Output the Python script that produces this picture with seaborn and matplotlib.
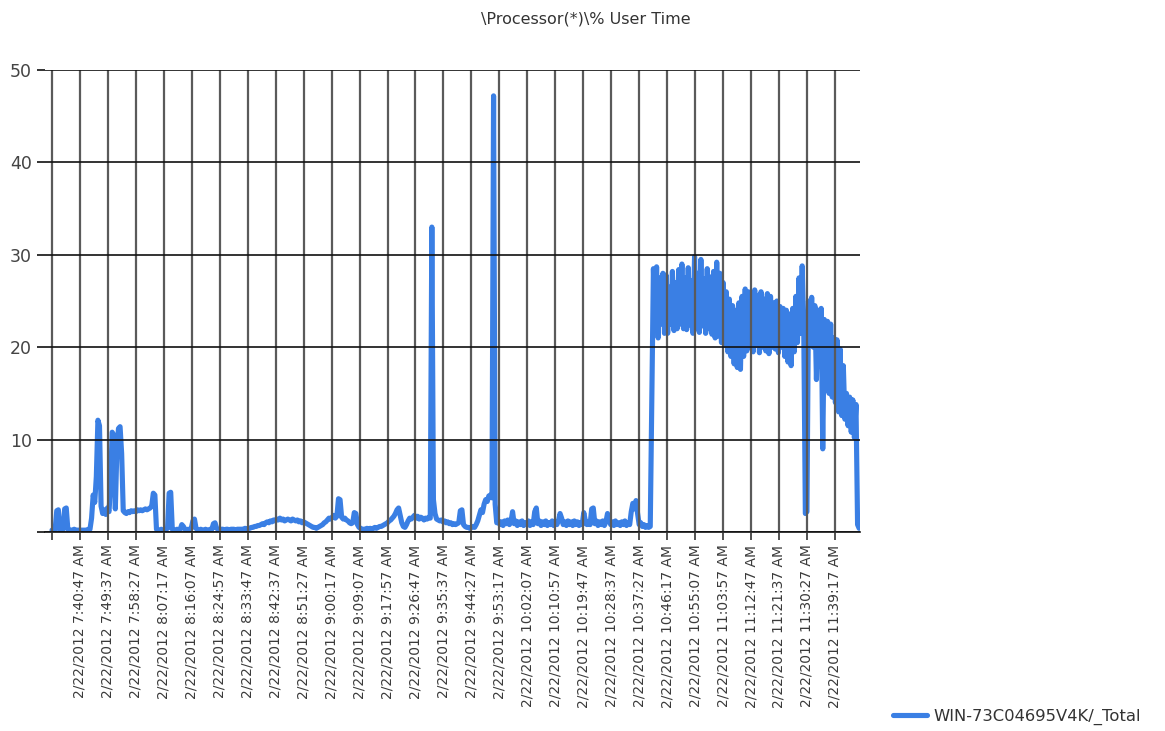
import pandas as pd, numpy as np
import matplotlib
matplotlib.use("Agg")
import matplotlib.pyplot as plt
import matplotlib.dates as mdates
import seaborn as sns

title = "\\Processor(*)\\% User Time"
series_name = "WIN-73C04695V4K/_Total"
time_fmt = "%m/%d/%Y %I:%M:%S %p"
start_time = "2/22/2012 7:31:57 AM"
sample_seconds = 30

tick_labels = [
    "2/22/2012 7:40:47 AM", "2/22/2012 7:49:37 AM", "2/22/2012 7:58:27 AM",
    "2/22/2012 8:07:17 AM", "2/22/2012 8:16:07 AM", "2/22/2012 8:24:57 AM",
    "2/22/2012 8:33:47 AM", "2/22/2012 8:42:37 AM", "2/22/2012 8:51:27 AM",
    "2/22/2012 9:00:17 AM", "2/22/2012 9:09:07 AM", "2/22/2012 9:17:57 AM",
    "2/22/2012 9:26:47 AM", "2/22/2012 9:35:37 AM", "2/22/2012 9:44:27 AM",
    "2/22/2012 9:53:17 AM", "2/22/2012 10:02:07 AM", "2/22/2012 10:10:57 AM",
    "2/22/2012 10:19:47 AM", "2/22/2012 10:28:37 AM", "2/22/2012 10:37:27 AM",
    "2/22/2012 10:46:17 AM", "2/22/2012 10:55:07 AM", "2/22/2012 11:03:57 AM",
    "2/22/2012 11:12:47 AM", "2/22/2012 11:21:37 AM", "2/22/2012 11:30:27 AM",
    "2/22/2012 11:39:17 AM",
]
y_ticks = [0, 10, 20, 30, 40, 50]

# % user time, one value per 30 s sample
early_values = [
    0.2, 0.2, 0.3, 2.3, 2.4, 0.2, 0.2, 0.3, 2.5, 2.6, 0.3, 0.2, 0.2, 0.2, 0.3, 0.2, 0.2, 0.2, 0.2, 0.2,
    0.2, 0.2, 0.2, 0.3, 0.3, 1.5, 4.0, 3.2, 6.0, 12.1, 11.5, 2.8, 2.0, 2.4, 1.9, 2.6, 2.2, 5.0, 10.8, 10.5,
    2.5, 9.0, 11.2, 11.4, 8.5, 2.3, 2.1, 2.0, 2.2, 2.1, 2.3, 2.2, 2.3, 2.2, 2.4, 2.3, 2.4, 2.3, 2.4, 2.5,
    2.4, 2.5, 2.6, 2.8, 4.2, 4.0, 0.3, 0.2, 0.2, 0.3, 0.2, 0.2, 0.3, 0.4, 4.2, 4.3, 0.3, 0.2, 0.2, 0.3,
    0.2, 0.3, 0.8, 0.6, 0.3, 0.2, 0.3, 0.2, 0.4, 1.2, 1.4, 0.4, 0.2, 0.2, 0.3, 0.2, 0.2, 0.3, 0.2, 0.2,
    0.3, 0.3, 0.9, 1.0, 0.4, 0.3, 0.2, 0.3, 0.3, 0.2, 0.3, 0.3, 0.2, 0.3, 0.3, 0.3, 0.2, 0.3, 0.3, 0.3,
]
middle_values = [
    0.3, 0.3, 0.4, 0.3, 0.4, 0.4, 0.5, 0.5, 0.6, 0.6, 0.7, 0.7, 0.8, 0.9, 0.8, 1.0, 1.1, 1.0, 1.2, 1.1,
    1.3, 1.2, 1.4, 1.3, 1.5, 1.3, 1.4, 1.2, 1.3, 1.4, 1.3, 1.2, 1.4, 1.3, 1.2, 1.3, 1.1, 1.2, 1.0, 1.1,
    1.0, 0.9, 0.8, 0.7, 0.6, 0.5, 0.5, 0.4, 0.5, 0.6, 0.7, 0.8, 1.0, 1.1, 1.3, 1.5, 1.4, 1.6, 1.8, 1.5,
    1.7, 3.6, 3.5, 1.6, 1.4, 1.5, 1.3, 1.2, 1.0, 0.9, 1.0, 2.1, 2.0, 0.8, 0.5, 0.4, 0.3, 0.3, 0.3, 0.4,
    0.3, 0.4, 0.3, 0.4, 0.5, 0.4, 0.5, 0.6, 0.6, 0.7, 0.8, 0.9, 1.0, 1.2, 1.3, 1.5, 1.7, 2.0, 2.4, 2.6,
    1.8, 1.0, 0.6, 0.5, 0.8, 1.2, 1.5, 1.4, 1.6, 1.8, 1.5, 1.7, 1.4, 1.6, 1.5, 1.3, 1.5, 1.4, 1.6, 1.5,
    33.0, 3.5, 2.0, 1.4, 1.3, 1.2, 1.3, 1.1, 1.2, 1.0, 1.1, 0.9, 1.0, 0.8, 0.9, 0.8, 0.9, 1.0, 2.3, 2.4,
    0.8, 0.6, 0.5, 0.5, 0.4, 0.5, 0.6, 0.5, 0.8, 1.2, 1.8, 2.4, 2.1, 3.0, 3.5, 3.3, 3.9, 4.0, 3.7, 47.2,
    3.0, 1.0, 1.2, 0.8, 1.1, 0.7, 1.2, 0.9, 1.3, 0.8, 1.1, 2.2, 0.9, 1.2, 0.7, 1.1, 0.8, 1.2, 0.7, 1.0,
    0.8, 1.2, 0.7, 1.1, 0.8, 2.2, 2.6, 0.9, 1.2, 0.7, 1.1, 0.8, 1.2, 0.7, 1.0, 0.8, 1.2, 0.7, 1.1, 0.8,
    1.2, 2.0, 1.5, 0.8, 1.1, 0.7, 1.2, 0.8, 1.1, 0.7, 1.2, 0.8, 1.1, 0.7, 1.0, 0.8, 2.1, 1.2, 0.8, 1.1,
    0.8, 2.5, 2.6, 0.9, 1.2, 0.7, 1.1, 0.8, 1.2, 0.7, 1.1, 2.0, 1.4, 0.8, 1.1, 0.7, 1.2, 0.8, 1.0, 0.7,
    1.1, 0.8, 1.2, 0.7, 1.0, 0.8, 2.2, 3.1, 2.5, 3.4, 2.0, 0.8, 1.0, 0.6, 0.8, 0.5, 0.7, 0.5, 0.6, 15.0,
]
load_values = [
    28.5, 22.0, 28.7, 21.0, 27.5, 22.5, 28.0, 21.5, 27.8, 21.5, 26.5, 22.5, 28.2, 21.8, 27.0, 22.0, 28.4, 22.5, 29.0, 22.0,
    27.5, 21.9, 28.6, 22.4, 27.2, 21.5, 29.8, 22.0, 28.0, 21.6, 29.5, 22.3, 27.4, 21.5, 28.5, 22.0, 27.6, 21.4, 28.2, 21.0,
    29.2, 21.2, 28.0, 20.5, 27.0, 20.2, 26.0, 19.5, 25.2, 19.0, 24.5, 18.2, 24.0, 17.8, 24.8, 17.6, 25.5, 19.0, 26.3, 19.6,
    26.0, 20.0, 25.4, 19.5, 26.2, 20.2, 25.6, 19.4, 26.0, 20.0, 25.2, 19.6, 25.8, 19.3, 25.5, 20.0, 24.8, 19.8, 25.0, 19.4,
    24.4, 20.0, 24.2, 19.0, 24.0, 18.4, 23.6, 18.0, 24.2, 19.5, 25.5, 20.5, 27.5, 21.5, 28.8, 22.0, 2.0, 2.2, 25.0, 21.0,
    25.4, 20.0, 24.5, 16.5, 24.0, 18.0, 24.2, 9.0, 23.0, 17.0, 22.8, 15.0, 22.5, 14.6, 21.0, 14.0, 20.8, 13.0, 19.8, 12.6,
    18.0, 12.2, 15.0, 11.5, 14.6, 10.8, 14.3, 10.2, 13.8, 0.8, 0.4,
]

values = early_values + middle_values + load_values
t0 = pd.to_datetime(start_time, format=time_fmt)
times = pd.date_range(t0, periods=len(values), freq=f"{sample_seconds}s")
df = pd.DataFrame({"time": times, "value": values})

sns.set_style("white")
plt.rcParams["font.family"] = ["DejaVu Sans"]

W, H = 1165, 731
fig = plt.figure(figsize=(W / 100, H / 100), dpi=100)
ax = fig.add_axes([45 / W, 1 - 532 / H, (860 - 45) / W, (532 - 70) / H])

sns.lineplot(data=df, x="time", y="value", ax=ax, color="#3a7fe4", lw=3.7,
             label=series_name, estimator=None)

# ticks: first gridline at the start time (no label), then labelled times
tick_times = [t0] + [pd.to_datetime(s, format=time_fmt) for s in tick_labels]
ax.set_xticks(mdates.date2num(tick_times))
ax.set_xticklabels([""] + tick_labels)
ax.set_xlim(mdates.date2num(t0 - pd.Timedelta(seconds=133)),
            mdates.date2num(t0 + pd.Timedelta(seconds=15316)))
ax.set_ylim(0, 50)
ax.set_yticks(y_ticks)
ax.set_yticklabels([""] + [str(v) for v in y_ticks[1:]])
ax.set_xlabel("")
ax.set_ylabel("")

ax.grid(False)
ax.xaxis.grid(True, color="#5a5a5a", lw=1.6)
ax.yaxis.grid(True, color="#111111", lw=1.2)
ax.set_axisbelow(False)

for s in ["left", "top", "right"]:
    ax.spines[s].set_visible(False)
ax.spines["bottom"].set_color("#111111")
ax.spines["bottom"].set_linewidth(1.2)

ax.tick_params(axis="x", bottom=True, direction="out", length=6, width=1.2,
               color="#333333", pad=3, labelsize=10, labelcolor="#3a3a3a",
               labelrotation=90)
ax.tick_params(axis="y", left=True, direction="out", length=5.5, width=1.2,
               color="#111111", pad=4, labelsize=12.5, labelcolor="#444444")

fig.text(586 / W, 1 - 19 / H, title, ha="center", va="center",
         fontsize=11.5, color="#333333")

ax.legend(loc="center left", bbox_to_anchor=(893 / W, 1 - 717 / H),
          bbox_transform=fig.transFigure, frameon=False, borderpad=0,
          borderaxespad=0, handlelength=2.1, handletextpad=0.35,
          fontsize=11.8, labelcolor="#333333")

fig.savefig("out.png", dpi=100)
plt.close(fig)
